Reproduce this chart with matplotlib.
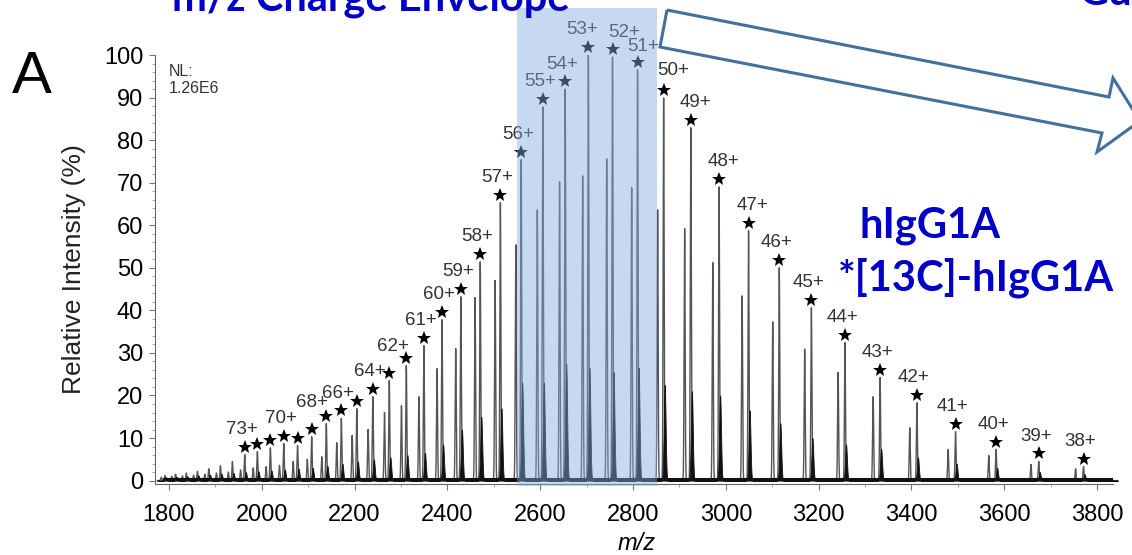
import numpy as np
import matplotlib.pyplot as plt
from matplotlib.patches import Rectangle, Polygon
from matplotlib.transforms import offset_copy

plt.rcParams['font.family'] = ['Liberation Sans', 'DejaVu Sans']

# charge states
charges = [80, 79, 78, 77, 76, 75, 74, 73, 72, 71, 70, 69, 68, 67, 66, 65, 64,
           63, 62, 61, 60, 59, 58, 57, 56, 55, 54, 53, 52, 51, 50, 49, 48, 47,
           46, 45, 44, 43, 42, 41, 40, 39, 38]

# [13C]-hIgG1A peaks (starred)
mz_heavy = [1791.6, 1814.3, 1837.5, 1861.4, 1885.9, 1911.0, 1936.8, 1963.3,
            1990.6, 2018.6, 2047.4, 2077.1, 2107.6, 2139.1, 2171.5, 2204.8,
            2239.3, 2274.8, 2311.5, 2349.4, 2388.5, 2429.0, 2470.8, 2514.2,
            2559.0, 2605.6, 2653.8, 2703.8, 2755.8, 2809.8, 2866.0, 2924.5,
            2985.4, 3048.9, 3115.1, 3184.3, 3256.7, 3332.4, 3411.7, 3494.9,
            3582.3, 3674.1, 3770.7]
int_heavy = [1.2, 1.5, 1.8, 2.2, 2.8, 3.5, 4.5, 6.1, 6.8, 7.7, 8.7, 8.2, 10.3,
             13.4, 14.6, 16.9, 19.7, 23.5, 27.0, 31.7, 37.8, 43.2, 51.4, 65.3,
             75.4, 87.8, 92.0, 100.0, 99.5, 96.5, 89.9, 82.9, 69.0, 58.7, 50.0,
             40.6, 32.4, 24.2, 18.3, 11.5, 7.3, 4.5, 3.3]

# hIgG1A peaks (unlabelled, just left of each starred peak)
mz_light = [1783.5, 1806.1, 1829.2, 1853.0, 1877.3, 1902.3, 1928.0, 1954.4,
            1981.6, 2009.5, 2038.1, 2067.7, 2098.1, 2129.4, 2161.6, 2194.8,
            2229.1, 2264.5, 2301.0, 2338.7, 2377.7, 2417.9, 2459.6, 2502.8,
            2547.4, 2593.7, 2641.7, 2691.5, 2743.3, 2797.1, 2853.0, 2911.2,
            2971.8, 3035.0, 3101.0, 3169.9, 3241.9, 3317.3, 3396.2, 3479.0,
            3566.5, 3657.4, 3753.6]
int_light = [0.8, 1.0, 1.1, 1.3, 1.5, 1.8, 2.0, 2.5, 3.0, 3.3, 3.6, 4.5, 5.0,
             5.6, 8.9, 10.6, 12.0, 16.0, 17.6, 19.7, 26.3, 31.0, 43.0, 47.0,
             55.4, 63.6, 70.2, 71.6, 75.6, 68.8, 63.6, 59.2, 51.2, 43.4, 37.3,
             30.9, 25.4, 19.7, 12.4, 7.3, 5.9, 3.8, 2.8]

# dark shoulder at the foot of each starred peak
int_shoulder = [0.8, 0.9, 1.0, 1.2, 1.4, 1.6, 1.8, 2.0, 2.2, 2.4, 2.6, 2.8,
                3.0, 3.5, 4.0, 4.5, 5.0, 5.5, 6.0, 6.5, 8.5, 12.0, 15.0, 17.0,
                23.0, 23.0, 27.5, 26.5, 25.5, 26.5, 22.5, 21.0, 20.0, 16.5,
                13.5, 10.0, 8.5, 7.5, 5.5, 4.0, 3.0, 2.0, 1.5]

starred = list(range(73, 37, -1))
labelled = [73, 70, 68, 66, 64] + list(range(62, 37, -1))
# label nudges in pixels (dx, dy)
nudge = {68: (0, 9), 62: (-13, -6), 53: (-6, 0), 52: (12, 0), 51: (6, -2),
         50: (9, 2), 49: (5, 0), 48: (4, 0), 47: (4, 0)}

fig = plt.figure(figsize=(11.32, 5.55), dpi=100)
W, H = 1132, 555


def px(x, y):
    return x / W, 1 - y / H


ax = fig.add_axes([155 / W, 1 - 484 / H, (1118 - 155) / W, (484 - 55) / H])

# profile spectrum
mz = np.arange(1775, 3845, 0.1)
sharp = np.zeros_like(mz)
shoulder = np.zeros_like(mz)
for m, h in zip(mz_heavy, int_heavy):
    sharp += h * np.exp(-0.5 * ((mz - m) / 1.1) ** 2)
for m, h in zip(mz_light, int_light):
    sharp += h * np.exp(-0.5 * ((mz - m) / 1.1) ** 2)
for m, h in zip(mz_heavy, int_shoulder):
    shoulder += h * np.exp(-0.5 * ((mz - m - 2.2) / 2.0) ** 2)

ax.plot(mz, sharp, color='#555555', lw=1.0, zorder=2)
ax.fill_between(mz, 0, shoulder, color='#111111', lw=0.6, zorder=3)
ax.plot([1790, 3830], [0.35, 0.35], color='#111111', lw=2.2, zorder=3)

# stars and charge labels
star_tr = offset_copy(ax.transData, fig=fig, y=8, units='dots')
for z, m, h in zip(charges, mz_heavy, int_heavy):
    if z in starred:
        ax.plot(m, h, marker='*', color='black', ms=10, mew=0,
                transform=star_tr, zorder=4, clip_on=False)
    if z in labelled:
        dx, dy = nudge.get(z, (-3, 0))
        ax.annotate(f'{z}+', (m, h), xytext=(dx * 0.72, (25 + dy) * 0.72),
                    textcoords='offset points', ha='center', va='center',
                    fontsize=13.5, color='#333333', zorder=4)

ax.set_xlim(1770, 3845)
ax.set_ylim(-0.8, 100)
ax.set_xticks(np.arange(1800, 3801, 200))
ax.set_xticks(np.arange(1800, 3801, 100), minor=True)
ax.set_yticks(np.arange(0, 101, 10))
ax.set_yticks(np.arange(0, 101, 2), minor=True)
ax.spines['top'].set_visible(False)
ax.spines['right'].set_visible(False)
ax.spines['bottom'].set_bounds(1770, 3835)
ax.tick_params(axis='both', which='major', labelsize=17, length=4.5,
               width=0.8, color='#777777', pad=4)
ax.tick_params(axis='both', which='minor', length=2.5, width=0.6,
               color='#999999')
ax.tick_params(axis='x', which='major', pad=10)
for s in ('left', 'bottom'):
    ax.spines[s].set_color('#666666')
    ax.spines[s].set_linewidth(0.8)
ax.set_ylabel('Relative Intensity (%)', fontsize=19, labelpad=13,
              color='#222222')
ax.set_xlabel('m/z', fontsize=17, style='italic', labelpad=4)

ax.text(1800, 98, 'NL:\n1.26E6', fontsize=11.5, va='top', ha='left',
        color='#333333', linespacing=1.2)

# highlighted region
ax.add_patch(Rectangle((2550, -1.2), 302, 112.2, facecolor='#82ACE0',
                       alpha=0.45, lw=0, clip_on=False, zorder=6))

# hollow block arrow
arrow_pts = [(667, 10), (1109, 97), (1113, 78), (1140, 121), (1097, 152),
             (1102, 133), (660, 47)]
fig.patches.append(Polygon([px(x, y) for x, y in arrow_pts], closed=True,
                           fill=False, edgecolor='#41719C', lw=2.2,
                           transform=fig.transFigure))

fig.text(*px(12, 93), 'A', fontsize=43, va='baseline', ha='left')

blue = '#0000C8'
bold = dict(fontsize=30, fontweight='bold', color=blue, family='Lato')
fig.text(*px(172, 11), 'm/z Charge Envelope', va='baseline', ha='left', **bold)
fig.text(*px(1078, 5), 'Gu', va='baseline', ha='left', **bold)
fig.text(*px(860, 237), 'hIgG1A', va='baseline', ha='left', **bold)
fig.text(*px(838, 290), '*[13C]-hIgG1A', va='baseline', ha='left', **bold)

fig.savefig('out.png', dpi=100)
